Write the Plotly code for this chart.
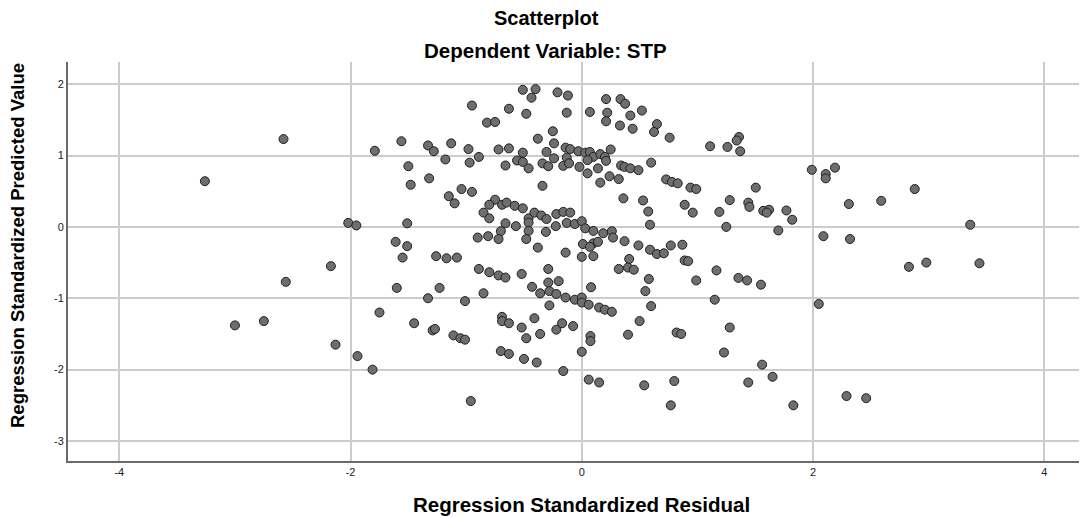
import plotly.graph_objects as go

# Regression Standardized Residual (x) and Regression Standardized Predicted Value (y)
residual = [
    -2.58, -3.26, -2.56, -3.00, -2.75,
    -0.51, -0.40, -0.435, -0.21, -0.12, -0.95, -0.63, -0.48, -0.82, -0.75,
    -0.13, -0.25, -0.38, -0.24, -0.14, -1.56, -1.79, -1.33, -1.28, -1.13,
    -0.98, -0.89, -0.72, -0.63, -0.51, -0.305, -0.24, -0.13, -1.50, -1.18,
    -0.97, -0.66, -0.56, -0.51, -0.46, -0.34, -0.29, -0.16, -1.48, -1.32,
    -0.34, -1.04, -0.95, -1.15, -1.10, -0.75, -0.80, -0.69, -0.65, -0.58,
    -0.51, -0.85, -0.80, -0.46, -0.41, -0.35, -0.305, -0.22, -0.16, -0.13,
    -0.225, -0.31, -0.46, -0.46, -0.66, -0.57, -0.70, -0.90, -0.81, -0.72,
    -0.48, -0.38, -0.14, -2.02, -1.95, -1.51, -1.61, -1.51, -1.55, -1.26,
    -1.17, -1.08, -2.17,
    -0.89, -0.80, -0.72, -0.66, -0.52, -0.29, -0.29, -0.20, -0.43, -0.36,
    -0.28, -0.22, -0.14, -0.28, -1.60, -1.23, -1.33, -1.01, -0.85, -1.75,
    -1.45, -1.29, -1.27, -1.11, -1.05, -1.01, -2.13, -1.94, -1.81, -0.96,
    -0.69, -0.69, -0.63, -0.52, -0.48, -0.41, -0.36, -0.22, -0.17, -0.70,
    -0.63, -0.50, -0.39, -0.16,
    0.21, 0.335, 0.375, 0.07, 0.22, 0.52, 0.42, 0.21, 0.33, 0.44,
    0.65, 0.625, 0.76, 1.11, 1.26, 1.36, 1.34, 1.37, 1.99, -0.10,
    -0.03, 0.03, 0.07, 0.10, 0.16, 0.20, 0.25, 0.21, 0.05, -0.11,
    -0.02, 0.05, 0.14, 0.16, 0.24, 0.32, 0.34, 0.37, 0.42, 0.49,
    0.60, 0.73, 0.78, 0.83, 0.94, 0.99, 1.505, 0.36, 0.53, 0.575,
    0.89, 0.96, 1.19, 1.28, 1.44, 1.45, 1.57, 1.62, 1.60, 1.77,
    1.82, 1.70, 1.25, 0.59, -0.10, -0.06, 0.0, 0.03, 0.10, 0.185,
    0.26, 0.27, 0.37, 0.01, 0.10, 0.14, 0.07, 0.0, 0.10, 0.49,
    0.59, 0.65, 0.71, 0.77, 0.87, 0.41, 0.89, 0.92,
    0.32, 0.40, 0.45, 0.58, 1.165, 0.99, 1.355, 1.43, 1.55, 0.08,
    0.55, 1.15, 2.05, -0.06, 0.0, 0.0, 0.06, 0.15, 0.20, 0.26,
    0.60, 0.50, -0.075, 0.075, 0.075, 0.40, 0.82, 0.86, 1.28, 0.0,
    1.23, 0.06, 0.15, 0.54, 0.80, 0.77, 1.56, 1.65, 1.44, 1.83,
    2.11, 2.11, 2.19, 2.31, 2.59, 2.88, 3.36, 2.09, 2.32, 2.83,
    2.98, 3.44, 2.29, 2.46,
]
predicted = [
    1.23, 0.64, -0.77, -1.38, -1.32,
    1.92, 1.93, 1.81, 1.885, 1.84, 1.70, 1.655, 1.585, 1.46, 1.47,
    1.60, 1.34, 1.235, 1.17, 1.11, 1.20, 1.066, 1.14, 1.06, 1.17,
    1.09, 0.98, 1.085, 1.10, 1.04, 1.05, 0.96, 0.97, 0.85, 0.945,
    0.90, 0.86, 0.93, 0.91, 0.82, 0.89, 0.85, 0.855, 0.59, 0.68,
    0.575, 0.53, 0.49, 0.43, 0.33, 0.38, 0.31, 0.31, 0.34, 0.295,
    0.26, 0.20, 0.12, 0.12, 0.20, 0.16, 0.11, 0.18, 0.21, 0.056,
    0.01, -0.07, 0.06, -0.056, 0.05, 0.01, -0.06, -0.15, -0.13, -0.17,
    -0.17, -0.29, -0.36, 0.056, 0.02, 0.05, -0.21, -0.27, -0.43, -0.41,
    -0.44, -0.43, -0.55,
    -0.59, -0.635, -0.68, -0.71, -0.66, -0.59, -0.78, -0.76, -0.84, -0.93,
    -0.90, -0.94, -0.99, -1.10, -0.855, -0.855, -1.0, -1.04, -0.93, -1.20,
    -1.35, -1.45, -1.43, -1.52, -1.56, -1.58, -1.65, -1.81, -2.0, -2.44,
    -1.26, -1.32, -1.35, -1.41, -1.56, -1.28, -1.50, -1.44, -1.35, -1.74,
    -1.78, -1.85, -1.90, -2.02,
    1.79, 1.79, 1.725, 1.61, 1.60, 1.63, 1.56, 1.48, 1.42, 1.375,
    1.44, 1.33, 1.25, 1.13, 1.12, 1.26, 1.21, 1.06, 0.80, 1.09,
    1.06, 1.04, 1.05, 0.98, 1.02, 0.98, 1.085, 0.925, 0.935, 0.89,
    0.84, 0.75, 0.82, 0.62, 0.71, 0.67, 0.86, 0.84, 0.82, 0.795,
    0.90, 0.665, 0.63, 0.61, 0.55, 0.53, 0.55, 0.40, 0.37, 0.215,
    0.31, 0.20, 0.21, 0.375, 0.34, 0.28, 0.225, 0.24, 0.20, 0.23,
    0.10, -0.05, 0.0, 0.03, 0.20, 0.04, 0.08, -0.02, -0.056, -0.09,
    -0.06, -0.15, -0.20, -0.24, -0.23, -0.21, -0.28, -0.42, -0.41, -0.26,
    -0.32, -0.38, -0.37, -0.26, -0.25, -0.45, -0.47, -0.48,
    -0.59, -0.57, -0.60, -0.73, -0.61, -0.75, -0.715, -0.75, -0.81, -0.845,
    -0.90, -1.02, -1.08, -1.02, -0.99, -1.06, -1.09, -1.13, -1.16, -1.19,
    -1.11, -1.32, -1.39, -1.53, -1.60, -1.51, -1.48, -1.50, -1.41, -1.75,
    -1.76, -2.14, -2.18, -2.22, -2.16, -2.50, -1.93, -2.10, -2.18, -2.50,
    0.74, 0.68, 0.83, 0.32, 0.365, 0.53, 0.03, -0.13, -0.17, -0.56,
    -0.50, -0.51, -2.37, -2.40,
]

x_ticks = [-4, -2, 0, 2, 4]
y_ticks = [-3, -2, -1, 0, 1, 2]

FONT = "Liberation Sans, Arial, sans-serif"

fig = go.Figure()
fig.add_trace(go.Scatter(
    x=residual, y=predicted, mode="markers",
    marker=dict(size=9, color="#6e6e6e", line=dict(color="#1e1e1e", width=1)),
    showlegend=False,
))

fig.update_layout(
    width=1079, height=509,
    margin=dict(l=60, r=0, t=54, b=56, autoexpand=False),
    paper_bgcolor="white", plot_bgcolor="white",
    font=dict(family=FONT, color="#111111"),
)

def label(text, x, y, size, angle=0):
    fig.add_annotation(text=f"<b>{text}</b>", xref="paper", yref="paper",
                       x=x, y=y, showarrow=False, xanchor="center", yanchor="middle",
                       textangle=angle,
                       font=dict(size=size, family=FONT, color="#000"))

label("Scatterplot", 0.470, 1.110, 20)
label("Dependent Variable: STP", 0.469, 1.030, 20.5)
label("Regression Standardized Residual", 0.5044, -0.1078, 20.5)
label("Regression Standardized Predicted Value", -0.049, 0.539, 18.5, angle=-90)

fig.update_xaxes(
    range=[-4.444, 4.37], tickvals=x_ticks, ticktext=[str(v) for v in x_ticks],
    showgrid=True, gridcolor="#cccccc", gridwidth=1.5, zeroline=False,
    showline=True, linecolor="#6a6a6a", linewidth=2, ticks="", automargin=False,
    tickfont=dict(size=11, family=FONT, color="#222"),
)
fig.update_yaxes(
    range=[-3.28, 2.31], tickvals=y_ticks, ticktext=[str(v) for v in y_ticks],
    showgrid=True, gridcolor="#cccccc", gridwidth=1.5, zeroline=False,
    showline=True, linecolor="#6a6a6a", linewidth=2, ticks="", automargin=False,
    tickfont=dict(size=11, family=FONT, color="#222"),
)

fig.write_html("out.html")
